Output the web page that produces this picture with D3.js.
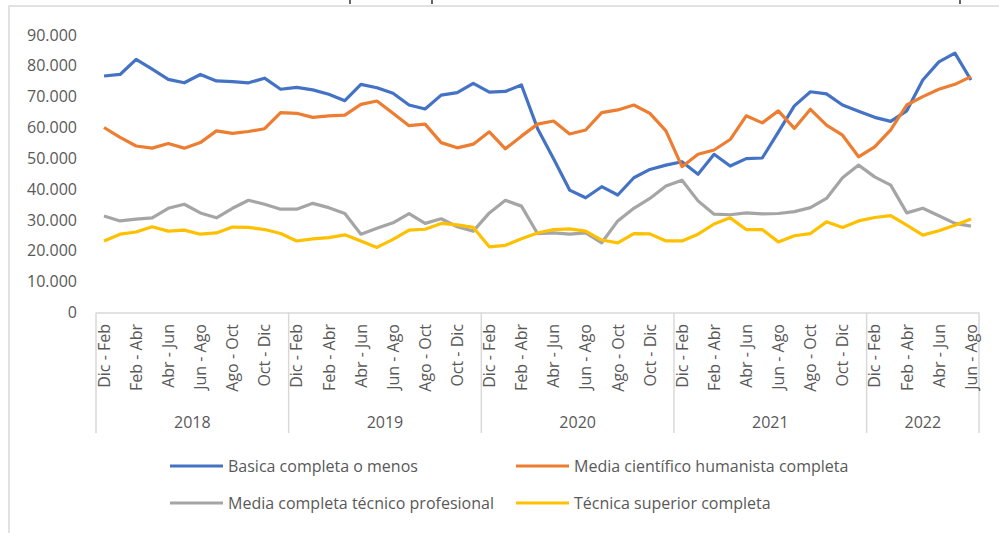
<!DOCTYPE html>
<html>
<head>
<meta charset="utf-8">
<script src="https://cdn.jsdelivr.net/npm/d3@7"></script>
<style>
  body { margin: 0; background: #fff; }
  text { font-family: "Open Sans", sans-serif; fill: #595959; }
</style>
</head>
<body>
<div id="chart"></div>
<script>
// Data (thousands)
const years = ['2018', '2019', '2020', '2021', '2022'];
const periods = ['Dic - Feb', 'Ene - Mar', 'Feb - Abr', 'Mar - May', 'Abr - Jun', 'May - Jul',
    'Jun - Ago', 'Jul - Sep', 'Ago - Oct', 'Sep - Nov', 'Oct - Dic', 'Nov - Ene'];
const periodsPerYear = [12, 12, 12, 12, 7];
const yTicks = [0, 10000, 20000, 30000, 40000, 50000, 60000, 70000, 80000, 90000];

const seriesNames = ['Basica completa o menos', 'Media científico humanista completa',
    'Media completa técnico profesional', 'Técnica superior completa'];
const seriesColors = ['#4472C4', '#ED7D31', '#A5A5A5', '#FFC000'];

const basica = [76.7, 77.2, 82.1, 78.9, 75.6, 74.5, 77.2, 75.1, 74.9, 74.5, 76.0, 72.4,
    73.0, 72.2, 70.8, 68.7, 74.0, 72.9, 71.1, 67.3, 66.0, 70.5, 71.3, 74.3,
    71.5, 71.7, 73.8, 59.7, 49.9, 39.7, 37.2, 40.8, 38.1, 43.7, 46.4, 47.8,
    48.9, 44.8, 51.3, 47.5, 49.9, 50.1, 58.5, 67.0, 71.6, 70.9, 67.3, 65.3,
    63.3, 62.0, 65.4, 75.4, 81.3, 84.1, 75.4];
const mediaCH = [60.0, 56.8, 54.0, 53.3, 54.8, 53.3, 55.1, 58.9, 58.1, 58.7, 59.6, 64.8,
    64.6, 63.3, 63.8, 64.0, 67.5, 68.6, 64.6, 60.6, 61.1, 55.1, 53.4, 54.6,
    58.6, 53.1, 57.2, 61.1, 62.1, 57.9, 59.2, 64.8, 65.7, 67.3, 64.6, 58.9,
    47.3, 51.3, 52.7, 56.1, 63.8, 61.5, 65.4, 59.7, 65.9, 60.8, 57.5, 50.5,
    53.7, 59.2, 67.3, 70.0, 72.4, 74.0, 76.5];
const mediaTP = [31.3, 29.7, 30.3, 30.7, 33.8, 35.1, 32.3, 30.7, 33.8, 36.4, 35.1, 33.5,
    33.5, 35.4, 34.0, 32.1, 25.4, 27.3, 29.1, 32.1, 28.9, 30.4, 27.8, 26.4,
    32.3, 36.4, 34.5, 25.6, 25.8, 25.4, 25.8, 22.6, 29.7, 33.8, 37.0, 41.0,
    42.9, 36.2, 31.9, 31.7, 32.3, 32.0, 32.1, 32.7, 34.0, 37.0, 43.7, 47.8,
    44.0, 41.3, 32.3, 33.8, 31.4, 28.9, 28.0];
const tecnica = [23.2, 25.4, 26.1, 27.8, 26.4, 26.7, 25.4, 25.8, 27.7, 27.6, 26.9, 25.6,
    23.2, 23.9, 24.3, 25.2, 23.2, 21.1, 23.7, 26.7, 27.0, 28.9, 28.4, 27.6,
    21.3, 21.8, 23.9, 25.8, 26.9, 27.1, 26.4, 23.5, 22.6, 25.6, 25.5, 23.2,
    23.2, 25.4, 28.7, 30.7, 26.9, 26.9, 22.9, 24.9, 25.6, 29.4, 27.6, 29.7,
    30.8, 31.4, 28.3, 25.1, 26.5, 28.3, 30.3];

const allSeries = [basica, mediaCH, mediaTP, tecnica];

// Build the category list (year + rolling quarter)
const categories = [];
years.forEach((yr, yi) => {
    for (let p = 0; p < periodsPerYear[yi]; p++) {
        categories.push({ key: yr + '|' + p, year: yr, period: periods[p], idx: p });
    }
});

const W = 999, H = 533;
const plot = { left: 96, right: 979, top: 35, bottom: 312.5 };

const svg = d3.select('#chart')
    .append('svg')
    .attr('width', W)
    .attr('height', H);

// Chart frame (cut off at the right and bottom in the reference)
svg.append('rect')
    .attr('x', 9).attr('y', 6)
    .attr('width', W + 10).attr('height', H + 10)
    .attr('fill', 'none')
    .attr('stroke', '#d9d9d9')
    .attr('stroke-width', 1.5);

// descender bits of the caption line above the frame
[350, 432, 960].forEach(px => {
    svg.append('line')
        .attr('x1', px).attr('x2', px)
        .attr('y1', 0).attr('y2', 4)
        .attr('stroke', '#000')
        .attr('stroke-width', 1.2);
});

// Scales
const x = d3.scaleBand()
    .domain(categories.map(d => d.key))
    .range([plot.left, plot.right])
    .padding(0);

const y = d3.scaleLinear()
    .domain([0, 90000])
    .range([plot.bottom, plot.top]);

const fmt = d3.formatLocale({ decimal: ',', thousands: '.', grouping: [3], currency: ['$', ''] }).format(',');

// Y axis (labels only)
const yAxis = svg.append('g')
    .attr('transform', `translate(${plot.left},0)`)
    .call(d3.axisLeft(y).tickValues(yTicks).tickSize(0).tickPadding(19).tickFormat(fmt));
yAxis.select('.domain').remove();
yAxis.selectAll('text')
    .style('font-family', '"Open Sans", sans-serif')
    .style('font-size', '16px')
    .attr('fill', '#595959');

// X axis line and year separators
const axisColor = '#d9d9d9';
svg.append('line')
    .attr('x1', plot.left).attr('x2', plot.right)
    .attr('y1', plot.bottom + 0.5).attr('y2', plot.bottom + 0.5)
    .attr('stroke', axisColor).attr('stroke-width', 1.5);

let start = 0;
const bounds = [x(categories[0].key)];
periodsPerYear.forEach(n => {
    start += n;
    bounds.push(start < categories.length ? x(categories[start].key) : plot.right);
});
bounds.forEach(bx => {
    svg.append('line')
        .attr('x1', bx).attr('x2', bx)
        .attr('y1', plot.bottom).attr('y2', 433)
        .attr('stroke', axisColor).attr('stroke-width', 1.5);
});

// Period labels (every second one)
svg.append('g')
    .selectAll('text')
    .data(categories.filter(d => d.idx % 2 === 0))
    .join('text')
    .attr('transform', d => `translate(${x(d.key) + x.bandwidth() / 2},324) rotate(-90)`)
    .attr('dy', '0.36em')
    .attr('text-anchor', 'end')
    .style('font-size', '16px')
    .text(d => d.period);

// Year labels
svg.append('g')
    .selectAll('text')
    .data(years)
    .join('text')
    .attr('x', (d, i) => (bounds[i] + bounds[i + 1]) / 2)
    .attr('y', 428)
    .attr('text-anchor', 'middle')
    .style('font-size', '16px')
    .text(d => d);

// Lines
const line = d3.line()
    .x((d, i) => x(categories[i].key) + x.bandwidth() / 2)
    .y(d => y(d * 1000));

allSeries.forEach((vals, si) => {
    svg.append('path')
        .datum(vals)
        .attr('fill', 'none')
        .attr('stroke', seriesColors[si])
        .attr('stroke-width', 3.2)
        .attr('stroke-linejoin', 'round')
        .attr('d', line);
});

// Legend (2 x 2)
const legendPos = [
    { x: 170, y: 466 }, { x: 516, y: 466 },
    { x: 170, y: 503 }, { x: 516, y: 503 }
];
seriesNames.forEach((name, i) => {
    const g = svg.append('g')
        .attr('transform', `translate(${legendPos[i].x},${legendPos[i].y})`);
    g.append('line')
        .attr('x1', 0).attr('x2', 53)
        .attr('stroke', seriesColors[i])
        .attr('stroke-width', 3.2);
    g.append('text')
        .attr('x', 58)
        .attr('dy', '0.35em')
        .style('font-size', '16px')
        .text(name);
});
</script>
</body>
</html>
